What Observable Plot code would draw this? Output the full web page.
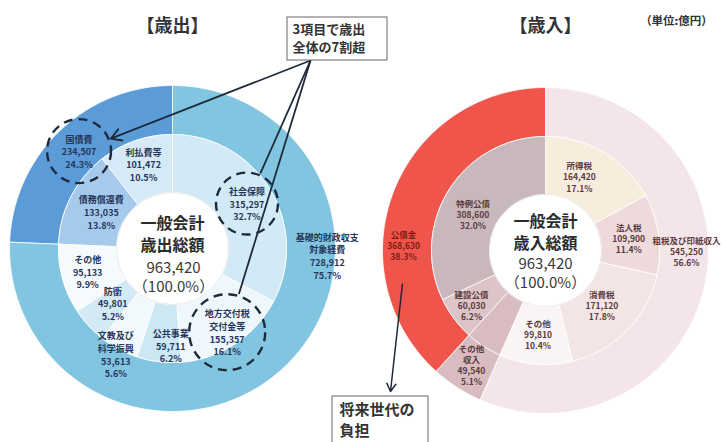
<!DOCTYPE html>
<html><head><meta charset="utf-8">
<script src="https://cdn.jsdelivr.net/npm/d3@7"></script>
<script src="https://cdn.jsdelivr.net/npm/@observablehq/plot@0.6"></script>
<style>body{margin:0;background:#fff;font-family:"Noto Sans CJK JP",sans-serif}</style>
</head><body><div id="chart"></div>
<script>
// ===== DATA (単位:億円) =====
const total = 963420;
// 歳出 outer ring
const expOuterNames = ["基礎的財政収支\n対象経費", "国債費"];
const expOuterValues = [728912, 234507];
const expOuterPct = ["75.7%", "24.3%"];
// 歳出 inner ring
const expInnerNames = ["社会保障", "地方交付税\n交付金等", "公共事業", "文教及び\n科学振興", "防衛", "その他", "債務償還費", "利払費等"];
const expInnerValues = [315297, 155357, 59711, 53613, 49801, 95133, 133035, 101472];
const expInnerPct = ["32.7%", "16.1%", "6.2%", "5.6%", "5.2%", "9.9%", "13.8%", "10.5%"];
// 歳入 outer ring
const revOuterNames = ["租税及び印紙収入", "その他\n収入", "公債金"];
const revOuterValues = [545250, 49540, 368630];
const revOuterPct = ["56.6%", "5.1%", "38.3%"];
// 歳入 inner ring
const revInnerNames = ["所得税", "法人税", "消費税", "その他", "その他収入", "建設公債", "特例公債"];
const revInnerValues = [164420, 109900, 171120, 99810, 49540, 60030, 308600];
const revInnerPct = ["17.1%", "11.4%", "17.8%", "10.4%", "5.1%", "6.2%", "32.0%"];
// highlighted items (歳出) and callouts
const highlighted = ["国債費", "社会保障", "地方交付税\n交付金等"];
const callout1 = ["3項目で歳出", "全体の7割超"];
const callout2 = ["将来世代の", "負担"];
const centerTitleExp = ["一般会計", "歳出総額"];
const centerTitleRev = ["一般会計", "歳入総額"];

// ===== STYLE / LAYOUT =====
const W = 722, H = 442;
const expC = [172, 248], revC = [545, 250];
const R0 = 56, R1 = 114, R2 = 163;
const expOuterColors = ["#82c5e1", "#5b9bd8"];
const expInnerColors = ["#d2eaf5", "#eef7fb", "#cde7f3", "#f2f9fc", "#d3eaf5", "#f5fafd", "#a6caec", "#d6e9f7"];
const revOuterColors = ["#f4e6e8", "#d8bcc1", "#f0554b"];
const revInnerColors = ["#f8ecdc", "#eed9db", "#f3e5e6", "#faf4f4", "#d8bcc1", "#dcc4c8", "#c8b8bc"];
const expOuterLabel = {r: [155, 135], nudge: [-43.5, 0]};
const expInnerLabel = {r: [87, 100, 97, 120, 81, 88, 80, 89], nudge: [0, 0, -6, 0, 0, 0, 0, 0]};
const revOuterLabel = {r: [141, 136, 142], nudge: [-11.5, 0, -19]};
const revInnerLabel = {r: [81, 84, 79, 84, 0, 92, 81], nudge: [-6, 0, 0, 0, 0, 0, -6]};
const circleR = [32, 31, 38];

const fmt = d3.format(",");
const rad = Math.PI / 180;

function slices(group, names, values, pct, colors, c, r0, r1, lab) {
  const sum = d3.sum(values);
  let acc = 0;
  return values.map((v, i) => {
    const a0 = acc / sum * 2 * Math.PI; acc += v;
    const a1 = acc / sum * 2 * Math.PI;
    const la = (a0 + a1) / 2 + lab.nudge[i] * rad;
    return {id: group + i, name: names[i], value: v, pct: pct[i], color: colors[i],
      a0, a1, cx: c[0], cy: c[1], r0, r1, lr: lab.r[i],
      lx: c[0] + lab.r[i] * Math.sin(la), ly: c[1] - lab.r[i] * Math.cos(la)};
  });
}
function polygon(s) {
  const pts = [];
  const n = Math.max(2, Math.ceil((s.a1 - s.a0) / rad));
  for (let k = 0; k <= n; k++) {
    const a = s.a0 + (s.a1 - s.a0) * k / n;
    pts.push({id: s.id, fill: s.color, x: s.cx + s.r1 * Math.sin(a), y: s.cy - s.r1 * Math.cos(a)});
  }
  for (let k = n; k >= 0; k--) {
    const a = s.a0 + (s.a1 - s.a0) * k / n;
    pts.push({id: s.id, fill: s.color, x: s.cx + s.r0 * Math.sin(a), y: s.cy - s.r0 * Math.cos(a)});
  }
  return pts;
}

const expOuter = slices("eo", expOuterNames, expOuterValues, expOuterPct, expOuterColors, expC, R1, R2, expOuterLabel);
const expInner = slices("ei", expInnerNames, expInnerValues, expInnerPct, expInnerColors, expC, R0, R1, expInnerLabel);
const revOuter = slices("ro", revOuterNames, revOuterValues, revOuterPct, revOuterColors, revC, R1, R2, revOuterLabel);
const revInner = slices("ri", revInnerNames, revInnerValues, revInnerPct, revInnerColors, revC, R0, R1, revInnerLabel);

const allSlices = [...expOuter, ...expInner, ...revOuter, ...revInner];
const polys = allSlices.flatMap(polygon);
const labelText = d => d.name + "\n" + fmt(d.value) + "\n" + d.pct;
const expLabels = [...expOuter, ...expInner];
const revLabels = [...revOuter, ...revInner].filter(d => d.lr > 0);
const revRed = revLabels.filter(d => d.name === "公債金");
const revOther = revLabels.filter(d => d.name !== "公債金");

// highlighted circles
const circles = expLabels.filter(d => highlighted.includes(d.name)).map(d => ({x: d.lx, y: d.ly, r: circleR[highlighted.indexOf(d.name)], name: d.name}));
circles.sort((a, b) => highlighted.indexOf(a.name) - highlighted.indexOf(b.name));
// callout box 1
const box1 = {x1: 287, x2: 387, y1: 17, y2: 60};
const box1Rows = callout1.map((t, i) => ({t, x: 292, y: 29 + i * 18}));
const origin = {x: 310, y: 60};
const links = circles.map(c => {
  const dx = origin.x - c.x, dy = origin.y - c.y, L = Math.hypot(dx, dy);
  return {x1: origin.x, y1: origin.y, x2: c.x + dx / L * (c.r + 2), y2: c.y + dy / L * (c.r + 2), name: c.name};
});
// callout 2 arrow from 公債金 ring
const red = revOuter.find(d => d.name === "公債金");
const box2 = {x1: 332, x2: 428, y1: 396, y2: 450};
const box2Rows = callout2.map((t, i) => ({t, x: 339, y: 410 + i * 21}));

const centerRows = [
  {x: expC[0], y: 223, t: centerTitleExp[0], b: true},
  {x: expC[0], y: 245, t: centerTitleExp[1], b: true},
  {x: expC[0] + 1, y: 268, t: fmt(total), b: false},
  {x: expC[0] + 1, y: 287, t: "（100.0%）", b: false},
  {x: revC[0], y: 221, t: centerTitleRev[0], b: true},
  {x: revC[0], y: 243, t: centerTitleRev[1], b: true},
  {x: revC[0], y: 264, t: fmt(total), b: false},
  {x: revC[0], y: 283, t: "（100.0%）", b: false}
];

const chart = Plot.plot({
  width: W, height: H, margin: 0,
  x: {domain: [0, W], range: [0, W], axis: null},
  y: {domain: [0, H], range: [0, H], axis: null},
  color: {type: "identity"},
  r: {type: "identity"},
  style: {fontFamily: '"Noto Sans CJK JP", sans-serif', background: "#fff"},
  marks: [
    Plot.line(polys, {x: "x", y: "y", z: "id", fill: "fill", stroke: "#ffffff", strokeWidth: 0.8, curve: "linear-closed"}),
    Plot.dot([{x: expC[0], y: expC[1]}, {x: revC[0], y: revC[1]}], {x: "x", y: "y", r: R0, fill: "#fff", stroke: "#e4e4e4", strokeWidth: 0.8}),
    // slice labels
    Plot.text(expLabels, {x: "lx", y: "ly", text: labelText, fontSize: 9, fontWeight: 600, lineHeight: 1.4, fill: "#26365a"}),
    Plot.text(revOther, {x: "lx", y: "ly", text: labelText, fontSize: 8.5, fontWeight: 600, lineHeight: 1.3, fill: "#5a3b3e"}),
    Plot.text(revRed, {x: "lx", y: "ly", text: labelText, fontSize: 8.5, fontWeight: 600, lineHeight: 1.3, fill: "#7d1c14"}),
    // center
    Plot.text(centerRows.filter(d => d.b), {x: "x", y: "y", text: "t", fontSize: 16, fontWeight: 700, fill: "#2b2b2b"}),
    Plot.text(centerRows.filter(d => !d.b), {x: "x", y: "y", text: "t", fontSize: 15, fontWeight: 400, fill: "#3a3a3a"}),
    // highlight circles
    Plot.dot(circles, {x: "x", y: "y", r: "r", stroke: "#1e2a3a", strokeWidth: 2.4, strokeDasharray: "9,6", fill: "none"}),
    // callout 1
    Plot.link(links.slice(1), {x1: "x1", y1: "y1", x2: "x2", y2: "y2", stroke: "#1e2a3a", strokeWidth: 1.8}),
    Plot.arrow(links.slice(0, 1), {x1: "x1", y1: "y1", x2: "x2", y2: "y2", stroke: "#1e2a3a", strokeWidth: 1.8, headLength: 10, bend: 0}),
    Plot.rect([box1], {x1: "x1", x2: "x2", y1: "y1", y2: "y2", fill: "#fff", stroke: "#666", strokeWidth: 1}),
    Plot.text(box1Rows, {x: "x", y: "y", text: "t", textAnchor: "start", fontSize: 13, fontWeight: 700, fill: "#333"}),
    // callout 2
    Plot.arrow([red], {x1: d => d.cx + 147 * Math.sin(d.a0 + 0.5 * (d.a1 - d.a0) - 0.6), y1: d => d.cy - 147 * Math.cos(d.a0 + 0.5 * (d.a1 - d.a0) - 0.6), x2: 390, y2: 391, stroke: "#1e2a3a", strokeWidth: 1.5, headLength: 9, bend: 0}),
    Plot.rect([box2], {x1: "x1", x2: "x2", y1: "y1", y2: "y2", fill: "#fff", stroke: "#666", strokeWidth: 1}),
    Plot.text(box2Rows, {x: "x", y: "y", text: "t", textAnchor: "start", fontSize: 15, fontWeight: 700, fill: "#333"}),
    // titles
    Plot.text([{x: 172, y: 26, t: "【歳出】"}, {x: 545, y: 26, t: "【歳入】"}], {x: "x", y: "y", text: "t", fontSize: 18, fontWeight: 700, fill: "#333"}),
    Plot.text([{x: 676, y: 21, t: "（単位:億円）"}], {x: "x", y: "y", text: "t", fontSize: 11.5, fontWeight: 700, fill: "#333"})
  ]
});
document.getElementById("chart").appendChild(chart);
</script>
</body></html>
